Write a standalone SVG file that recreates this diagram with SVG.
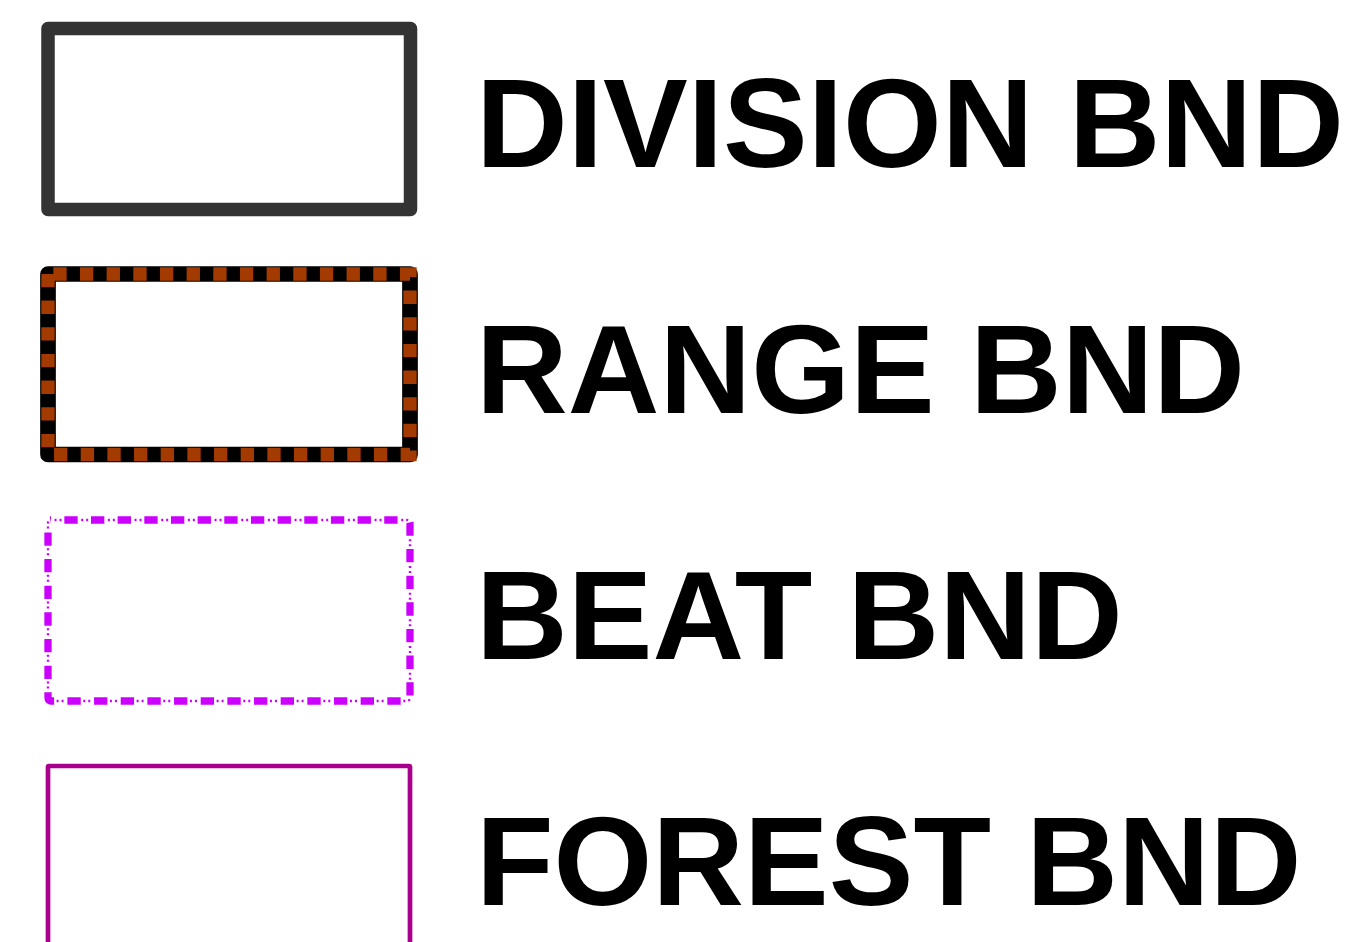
<svg xmlns="http://www.w3.org/2000/svg" width="1370" height="942" viewBox="0 0 1370 942">
  <style>
    .lbl { font-family: "Liberation Sans", Arial, sans-serif; font-weight: bold; font-size: 127px; fill: #000; }
    .box { fill: #fff; }
    .division { stroke: #333333; stroke-width: 13.5; stroke-linejoin: round; }
    .range-base { stroke: #000; stroke-width: 15.7; stroke-linejoin: round; }
    .range-dash { fill: none; stroke: #A33A00; stroke-width: 13.3; stroke-dasharray: 13.33 13.33; stroke-dashoffset: 21.33; }
    .beat-dash { fill: none; stroke: #CC00FF; stroke-width: 7.3; stroke-dasharray: 13.33 13.33; stroke-dashoffset: 13.33; }
    .beat-dot { fill: none; stroke: #CC00FF; stroke-width: 2.4; stroke-dasharray: 2 3 2 19.67; stroke-dashoffset: 23.17; }
    .forest { stroke: #A8008C; stroke-width: 4.7; }
  </style>
  <rect width="1370" height="942" fill="#fff"/>
  <g id="division">
    <rect class="box division" x="48" y="28.5" width="362.5" height="181"/>
    <text class="lbl" x="476" y="167">DIVISION BND</text>
  </g>
  <g id="range">
    <rect class="box range-base" x="48" y="274" width="362" height="180.5"/>
    <rect class="range-dash" x="48" y="274" width="362" height="180.5"/>
    <text class="lbl" x="476" y="413">RANGE BND</text>
  </g>
  <g id="beat">
    <rect class="box" x="48" y="520" width="362" height="181" stroke="none"/>
    <rect class="beat-dot" x="48" y="520" width="362" height="181" rx="3"/>
    <rect class="beat-dash" x="48" y="520" width="362" height="181" rx="3"/>
    <text class="lbl" x="476" y="659">BEAT BND</text>
  </g>
  <g id="forest">
    <rect class="box forest" x="48" y="766" width="362" height="181" rx="1"/>
    <text class="lbl" x="476" y="905">FOREST BND</text>
  </g>
  <g id="connectors"/>
</svg>
